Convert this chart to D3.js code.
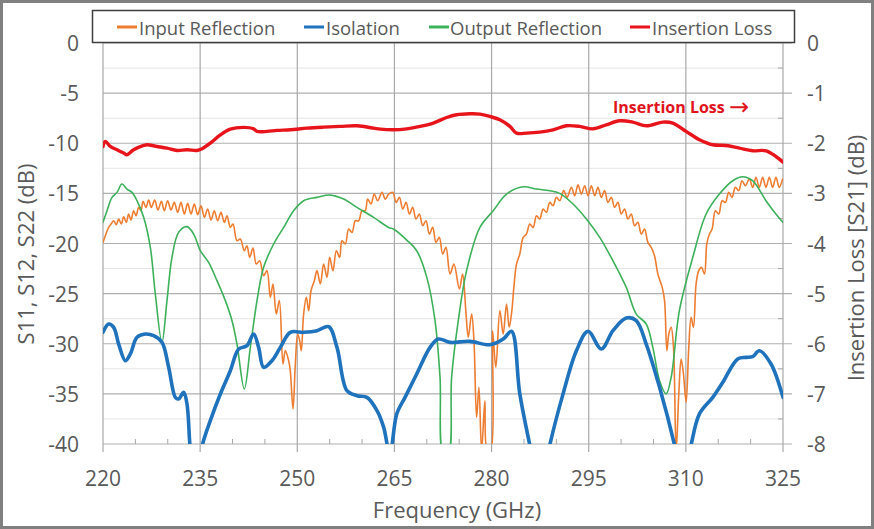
<!DOCTYPE html>
<html><head><meta charset="utf-8">
<script src="https://cdn.jsdelivr.net/npm/d3@7"></script>
<style>body{margin:0;background:#fff}svg{display:block}text{font-family:"Open Sans",sans-serif;fill:#595959}</style>
</head><body>
<svg id="c" width="874" height="529"></svg>
<script>
// ---------- DATA ----------
const xTicks = [220,235,250,265,280,295,310,325];
const yLeftTicks = [0,-5,-10,-15,-20,-25,-30,-35,-40];
const yRightTicks = [0,-1,-2,-3,-4,-5,-6,-7,-8];
const seriesNames = ["Input Reflection","Isolation","Output Reflection","Insertion Loss"];

// Input Reflection (S11, dB)
const irFreq = [220.0,220.36,220.87,221.24,221.65,222.06,222.42,222.83,223.19,223.6,223.96,224.32,224.73,225.1,225.51,225.87,226.18,226.64,227.05,227.46,227.98,228.49,229.01,229.47,229.98,230.5,231.01,231.53,232.04,232.56,233.07,233.59,234.1,234.62,235.13,235.65,236.16,236.68,237.19,237.7,238.22,238.73,239.15,239.66,240.07,240.69,241.2,241.82,242.23,242.65,243.16,243.67,244.19,244.81,245.32,245.84,246.25,246.76,247.23,247.79,248.15,248.67,248.92,249.34,249.7,250.06,250.37,250.62,250.98,251.4,251.76,252.12,252.63,253.04,253.56,254.07,254.59,255.0,255.51,256.03,256.54,256.9,257.42,257.93,258.45,258.96,259.48,259.99,260.5,260.86,261.38,261.89,262.41,263.08,263.59,264.11,
264.74,265.26,265.77,266.28,266.8,267.31,267.82,268.34,268.85,269.37,269.88,270.39,270.91,271.42,271.93,272.45,272.96,273.58,274.19,275.02,275.53,276.04,276.4,276.92,277.28,277.69,278.05,278.46,278.97,279.33,279.84,280.15,280.66,281.28,281.79,282.31,282.72,283.13,283.44,283.85,284.36,284.88,285.39,285.9,286.42,286.93,287.44,287.96,288.47,288.99,289.5,290.01,290.53,291.14,291.66,292.32,292.84,293.35,293.87,294.38,294.89,295.41,295.92,296.43,296.95,297.46,297.97,298.49,299.0,299.51,300.03,300.54,301.06,301.57,302.08,302.6,303.11,303.62,304.14,304.65,305.16,305.68,306.35,306.71,307.07,307.37,307.73,308.09,308.5,308.91,309.27,309.63,310.04,310.45,310.81,311.17,311.58,311.99,312.41,312.87,313.23,313.64,314.05,314.56,315.08,315.59,316.1,316.62,317.13,317.64,318.16,318.67,319.19,319.8,320.32,320.83,321.34,321.86,322.37,322.88,323.4,323.91,324.42,324.94];
const irDb = [-19.89,-19.22,-18.39,-18.06,-17.73,-18.12,-17.56,-18.06,-17.33,-17.89,-17.06,-17.66,-16.73,-17.23,-16.4,-16.73,-15.8,-16.4,-15.66,-16.4,-15.66,-16.66,-15.8,-16.73,-15.73,-16.66,-15.9,-16.89,-15.9,-17.06,-16.0,-17.06,-16.06,-17.13,-16.23,-17.39,-16.56,-17.66,-16.73,-17.73,-16.89,-17.89,-17.23,-18.39,-18.06,-19.72,-19.55,-20.72,-20.22,-21.38,-20.45,-22.05,-21.72,-23.21,-22.71,-25.37,-24.04,-27.03,-25.7,-32.02,-30.69,-31.69,-32.69,-36.51,-32.02,-29.03,-29.69,-30.69,-27.03,-25.37,-26.7,-24.71,-23.71,-22.71,-24.04,-22.05,-23.38,-21.38,-22.71,-20.72,-21.38,-19.72,-20.05,-18.56,-18.89,-17.73,-17.73,-16.73,-16.73,-15.57,-16.06,-15.07,-15.73,-14.9,-15.57,-15.07,
-14.9,-15.9,-15.4,-16.56,-15.9,-17.06,-16.4,-17.56,-17.06,-18.22,-17.73,-19.06,-18.39,-19.89,-19.39,-21.05,-20.39,-23.05,-22.05,-24.54,-23.05,-26.87,-29.36,-27.03,-29.69,-37.34,-34.35,-40.66,-35.68,-40.66,-40.66,-28.7,-32.35,-26.7,-29.03,-26.04,-28.36,-26.7,-24.38,-22.05,-21.05,-19.39,-19.06,-18.06,-18.39,-17.23,-17.56,-16.56,-16.89,-15.9,-16.23,-15.4,-15.73,-14.73,-15.4,-14.4,-15.23,-14.14,-15.07,-14.24,-15.23,-14.24,-15.23,-14.4,-15.4,-14.73,-15.9,-15.4,-16.4,-15.9,-17.06,-16.56,-17.56,-17.06,-18.22,-17.89,-19.06,-18.56,-19.89,-20.39,-21.22,-23.05,-24.38,-25.7,-30.69,-29.03,-28.36,-30.36,-40.66,-35.01,-31.52,-33.02,-35.84,-30.36,-27.37,-28.36,-24.04,-22.71,-22.38,-23.05,-20.05,-19.06,-18.56,-16.73,-17.06,-15.73,-15.9,-14.9,-15.4,-14.4,-14.73,-13.74,-14.24,-13.57,-14.4,-13.4,-14.4,-13.4,-14.4,-13.4,-14.4,-13.4,-14.4,-13.57];

// Isolation (S12, dB)
const isoFreq = [220.0,220.87,221.65,222.42,223.45,224.22,225.25,226.54,227.82,229.1,230.14,231.17,231.68,232.45,232.97,233.48,234.3,235.3,236.57,238.12,239.66,240.95,242.23,243.26,244.03,244.8,246.09,247.38,248.92,251.0,253.04,254.84,256.13,257.67,259.22,260.76,262.31,263.34,264.3,265.36,266.64,268.44,270.5,271.78,273.58,276.66,279.74,281.8,283.08,284.36,285.9,287.5,288.99,291.04,293.1,294.9,296.95,298.74,300.8,302.34,303.88,305.94,308.25,309.5,310.8,312.1,314.15,315.7,318.0,319.3,320.3,321.35,323.15,325.0];
const isoDb = [-28.86,-28.03,-28.36,-30.03,-31.69,-31.02,-29.36,-29.03,-29.2,-29.86,-32.35,-35.35,-35.51,-34.85,-36.01,-40.5,-44,-40.2,-37.67,-35.01,-32.69,-30.53,-30.19,-29.03,-30.36,-32.35,-31.69,-30.36,-28.86,-28.86,-28.7,-28.3,-30.36,-34.68,-35.18,-35.35,-36.68,-38.34,-41,-37.0,-35.35,-33.02,-30.36,-29.53,-29.86,-29.76,-30.1,-29.53,-28.76,-35.0,-40.1,-45,-40.1,-35.0,-30.7,-28.76,-30.53,-28.7,-27.43,-27.69,-30.03,-34.35,-40.1,-44,-40.1,-37.0,-35.35,-33.85,-31.52,-31.36,-31.29,-30.7,-32.02,-35.35];

// Output Reflection (S22, dB)
const orFreq = [220.0,220.62,221.39,222.16,222.93,223.7,224.48,225.25,226.28,227.31,228.08,229.1,229.88,230.65,231.68,232.97,234.0,235.03,236.31,237.6,238.89,239.92,240.69,241.82,242.75,243.78,244.8,246.35,247.9,249.44,250.98,253.04,255.1,257.16,259.22,261.79,264.1,264.85,266.9,268.44,270.0,271.27,272.04,272.55,273.32,273.83,274.86,276.14,278.2,280.25,282.31,284.88,286.93,288.99,290.5,292.58,294.64,296.7,298.74,300.8,302.34,303.88,304.9,305.94,306.96,307.73,309.0,311.07,313.13,315.18,317.24,318.77,320.3,322.37,323.9,325.0];
const orDb = [-17.89,-16.73,-15.4,-14.9,-14.07,-14.57,-14.9,-15.73,-17.39,-20.39,-25.04,-29.86,-25.7,-21.38,-18.89,-18.32,-19.06,-20.72,-21.88,-23.71,-25.7,-27.7,-30.03,-34.51,-30.36,-25.7,-22.38,-20.05,-18.39,-16.73,-15.73,-15.4,-15.17,-15.57,-16.4,-17.39,-18.4,-18.56,-19.66,-20.72,-23.38,-27.7,-33.35,-41,-41,-33.35,-27.7,-22.71,-18.39,-16.73,-15.07,-14.34,-14.57,-14.73,-15.0,-16.06,-17.56,-19.39,-21.72,-24.38,-27.04,-28.03,-30.36,-33.68,-35.0,-33.35,-26.7,-21.38,-17.06,-15.07,-13.74,-13.34,-13.74,-15.73,-17.06,-17.89];

// Insertion Loss (S21, dB, right axis)
const ilFreq = [220.0,220.36,221.13,222.16,223.19,223.7,224.73,226.28,226.8,228.34,229.88,231.43,232.97,234.51,235.29,236.57,238.12,239.66,241.72,243.26,243.78,245.32,246.87,248.92,251.5,254.07,256.64,259.22,261.79,262.8,264.85,266.9,268.95,271.0,273.06,274.6,276.66,278.2,279.74,281.28,282.82,283.85,285.39,287.44,289.5,291.55,293.6,295.66,297.7,299.77,301.8,303.9,306.45,307.99,310.04,312.1,314.15,316.2,318.26,320.3,322.37,323.9,325.0];
const ilDb = [-2.064,-1.964,-2.064,-2.13,-2.196,-2.23,-2.13,-2.044,-2.03,-2.064,-2.098,-2.144,-2.13,-2.144,-2.11,-1.998,-1.832,-1.718,-1.684,-1.712,-1.764,-1.764,-1.744,-1.732,-1.698,-1.678,-1.664,-1.652,-1.698,-1.718,-1.732,-1.712,-1.664,-1.598,-1.486,-1.432,-1.412,-1.418,-1.466,-1.532,-1.664,-1.798,-1.798,-1.778,-1.732,-1.652,-1.664,-1.712,-1.632,-1.552,-1.578,-1.652,-1.578,-1.598,-1.764,-1.93,-2.03,-2.044,-2.098,-2.15,-2.15,-2.264,-2.376];

// ---------- CHART ----------
const svg = d3.select("#c");
const L = 103, R = 783, T = 43, B = 444;
const x = d3.scaleLinear().domain([220,325]).range([L,R]);
const yL = d3.scaleLinear().domain([-40,0]).range([B,T]);
const yR = d3.scaleLinear().domain([-8,0]).range([B,T]);

// outer frame
svg.append("rect").attr("x",1.5).attr("y",1.5).attr("width",871).attr("height",526)
  .attr("fill","#fff").attr("stroke","#808080").attr("stroke-width",3);

const g = svg.append("g");
// minor horizontal grid + inner right ticks
d3.range(-37.5,0,5).forEach(v=>{
  g.append("line").attr("x1",L).attr("x2",R).attr("y1",yL(v)).attr("y2",yL(v))
   .attr("stroke","#e4e4e4").attr("stroke-width",1);
  g.append("line").attr("x1",R-5).attr("x2",R).attr("y1",yL(v)).attr("y2",yL(v))
   .attr("stroke","#a6a6a6").attr("stroke-width",1);
});
// major horizontal grid (with outward right tick)
yLeftTicks.forEach(v=>{
  g.append("line").attr("x1",L).attr("x2",R+9).attr("y1",yL(v)).attr("y2",yL(v))
   .attr("stroke","#b0b0b0").attr("stroke-width",1.2);
});
// vertical major grid
xTicks.forEach(v=>{
  g.append("line").attr("x1",x(v)).attr("x2",x(v)).attr("y1",T).attr("y2",B+8)
   .attr("stroke","#a8a8a8").attr("stroke-width",1.2);
});
// minor x ticks
d3.range(225,325,5).filter(v=>(v-220)%15!==0).forEach(v=>{
  g.append("line").attr("x1",x(v)).attr("x2",x(v)).attr("y1",B-5).attr("y2",B)
   .attr("stroke","#a8a8a8").attr("stroke-width",1);
});

// tick labels
xTicks.forEach(v=>{
  svg.append("text").attr("x",x(v)).attr("y",478).attr("text-anchor","middle")
    .attr("dominant-baseline","central").attr("font-size",21).text(v);
});
yLeftTicks.forEach(v=>{
  svg.append("text").attr("x",79).attr("y",yL(v)).attr("text-anchor","end")
    .attr("dominant-baseline","central").attr("font-size",21).text(v);
});
yRightTicks.forEach(v=>{
  svg.append("text").attr("x",807).attr("y",yR(v)).attr("text-anchor","start")
    .attr("dominant-baseline","central").attr("font-size",21).text(v);
});

// axis titles
svg.append("text").attr("x",457).attr("y",509).attr("text-anchor","middle")
  .attr("dominant-baseline","central").attr("font-size",22).text("Frequency (GHz)");
svg.append("text").attr("transform","translate(25,254) rotate(-90)").attr("text-anchor","middle")
  .attr("dominant-baseline","central").attr("font-size",22).text("S11, S12, S22 (dB)");
svg.append("text").attr("transform","translate(855,258) rotate(-90)").attr("text-anchor","middle")
  .attr("dominant-baseline","central").attr("font-size",22).text("Insertion Loss [S21] (dB)");

// clip
svg.append("clipPath").attr("id","plot").append("rect")
  .attr("x",L).attr("y",T-10).attr("width",R-L).attr("height",B-T+10);
const plot = svg.append("g").attr("clip-path","url(#plot)");

const colors = {ir:"#ED7D31", iso:"#1F72BC", or:"#3DB05A", il:"#E8141B"};
function draw(fr, db, ys, color, w){
  const pts = fr.map((f,i)=>[f,db[i]]);
  const line = d3.line().x(d=>x(d[0])).y(d=>ys(d[1])).curve(d3.curveCatmullRom.alpha(0.5));
  plot.append("path").attr("d",line(pts)).attr("fill","none").attr("stroke",color)
    .attr("stroke-width",w).attr("stroke-linejoin","round").attr("stroke-linecap","round");
}
draw(irFreq, irDb, yL, colors.ir, 1.6);
draw(orFreq, orDb, yL, colors.or, 1.6);
draw(isoFreq, isoDb, yL, colors.iso, 3.6);
draw(ilFreq, ilDb, yR, colors.il, 3.4);

// annotation
const ann = svg.append("text").attr("x",613).attr("y",107).attr("dominant-baseline","central")
  .attr("font-size",16).attr("font-weight","bold").style("fill","#E0141B");
ann.append("tspan").text("Insertion Loss ");
ann.append("tspan").style("font-family","'DejaVu Sans'").attr("font-size",24).attr("font-weight","normal").text("\u2192");

// legend
svg.append("rect").attr("x",92.5).attr("y",10.5).attr("width",702).attr("height",32)
  .attr("fill","#fff").attr("stroke","#3f3f3f").attr("stroke-width",1.5);
const leg = [
  {n:seriesNames[0], c:colors.ir, x1:117, tx:139},
  {n:seriesNames[1], c:colors.iso, x1:304, tx:326},
  {n:seriesNames[2], c:colors.or, x1:429, tx:450},
  {n:seriesNames[3], c:colors.il, x1:630, tx:652}
];
leg.forEach(d=>{
  svg.append("line").attr("x1",d.x1).attr("x2",d.x1+20).attr("y1",27).attr("y2",27)
    .attr("stroke",d.c).attr("stroke-width",3);
  svg.append("text").attr("x",d.tx).attr("y",27).attr("dominant-baseline","central")
    .attr("font-size",18.5).text(d.n);
});
</script>
</body></html>
